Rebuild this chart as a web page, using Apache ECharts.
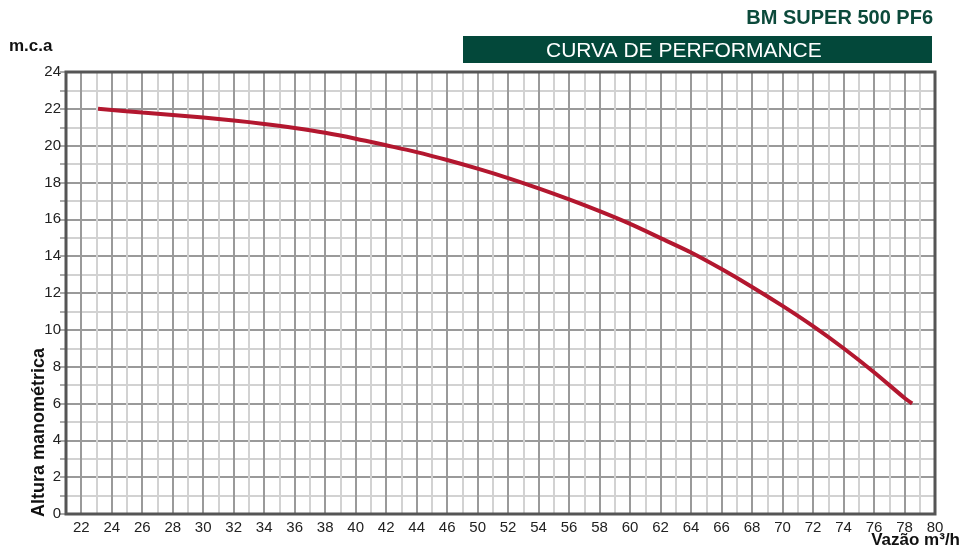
<!DOCTYPE html>
<html>
<head>
<meta charset="utf-8">
<script src="https://cdn.jsdelivr.net/npm/echarts@6/dist/echarts.min.js"></script>
<style>
html,body{margin:0;padding:0;background:#fff;}
#main{width:962px;height:554px;}
</style>
</head>
<body>
<div id="main"></div>
<script>
// curva - x em colunas da grade (o rotulo 48 nao existe, depois do 46 vem 50)
var curveX = [23.1, 26, 28, 30, 32, 34, 36, 38, 40, 42, 44, 46, 48, 50, 52, 54, 56, 58, 60, 62, 64, 66, 68, 70, 72, 74, 76, 76.5];
var curveY = [22.0, 21.8, 21.67, 21.53, 21.37, 21.18, 20.96, 20.7, 20.38, 20.02, 19.65, 19.22, 18.75, 18.24, 17.68, 17.08, 16.44, 15.75, 14.98, 14.2, 13.3, 12.33, 11.3, 10.2, 9.0, 7.7, 6.3, 6.0];

// rotulos do eixo X (um a cada 2 colunas)
var xLabels = ['22','24','26','28','30','32','34','36','38','40','42','44','46','50','52','54','56','58','60','62','64','66','68','70','72','74','76','78','80'];

var xMin = 21, xMax = 78;
var yMin = 0, yMax = 24;

var lightLine = '#d2d2d2';
var darkLine = '#9a9a9a';

var myChart = echarts.init(document.getElementById('main'));

var data = [];
for (var i = 0; i < curveX.length; i++) {
	data.push([curveX[i], curveY[i]]);
}

var labelFont = 'Liberation Sans';

var option = {
	animation: false,
	grid: {
		left: 66, right: 27, top: 72, bottom: 40,
		show: true,
		z: 10,
		backgroundColor: 'transparent',
		borderColor: '#555',
		borderWidth: 3
	},
	graphic: [
		{
			type: 'text', right: 29, top: 8,
			style: { text: 'BM SUPER 500 PF6', fill: '#0c4a3b', font: 'bold 20px "Liberation Sans"' }
		},
		{
			type: 'rect', left: 463, top: 36,
			shape: { width: 469, height: 27 },
			style: { fill: '#03483a' }
		},
		{
			type: 'text', left: 546, top: 41,
			style: { text: 'CURVA DE PERFORMANCE', fill: '#fff', font: '21px "Liberation Sans"' }
		},
		{
			type: 'text', left: 9, top: 38,
			style: { text: 'm.c.a', fill: '#111', font: 'bold 17px "Liberation Sans"' }
		},
		{
			type: 'text', x: 30, y: 517, rotation: Math.PI / 2,
			style: { text: 'Altura manométrica', fill: '#111', font: 'bold 18px "Liberation Sans"', align: 'left', verticalAlign: 'top' }
		},
		{
			type: 'text', right: 2, top: 532,
			style: { text: 'Vazão m³/h', fill: '#111', font: 'bold 17px "Liberation Sans"' }
		}
	],
	xAxis: {
		type: 'value',
		min: xMin, max: xMax, interval: 1,
		axisLine: { show: false },
		axisTick: { show: false },
		axisLabel: {
			margin: 6,
			color: '#222',
			fontFamily: labelFont,
			fontSize: 15,
			showMinLabel: true,
			showMaxLabel: true,
			formatter: function (v) {
				if (v % 2 !== 0) return '';
				return xLabels[(v - 22) / 2] || '';
			}
		},
		splitLine: {
			show: true,
			lineStyle: { color: [lightLine, darkLine], width: 2 }
		}
	},
	yAxis: {
		type: 'value',
		min: yMin, max: yMax, interval: 1,
		axisLine: { show: false },
		axisTick: { show: true, length: 6, lineStyle: { color: '#aaa', width: 2 } },
		axisLabel: {
			margin: 5,
			color: '#222',
			fontFamily: labelFont,
			fontSize: 15,
			formatter: function (v) {
				return v % 2 === 0 ? String(v) : '';
			}
		},
		splitLine: {
			show: true,
			lineStyle: { color: [darkLine, lightLine], width: 2 }
		}
	},
	series: [
		{
			name: 'curva',
			type: 'line',
			smooth: 0.3,
			symbol: 'none',
			data: data,
			lineStyle: { color: '#b3172f', width: 4 },
			z: 5
		}
	]
};

myChart.setOption(option);
</script>
</body>
</html>
